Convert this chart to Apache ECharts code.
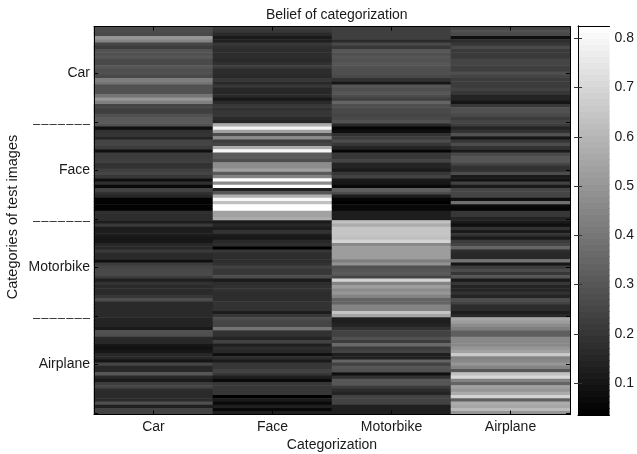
<!DOCTYPE html>
<html><head><meta charset="utf-8">
<style>html,body{margin:0;padding:0;background:#fff}#c{width:637px;height:454px}</style>
<script src="https://cdn.jsdelivr.net/npm/echarts@6/dist/echarts.min.js"></script>
</head><body><div id="c"></div>
<script>
var categories = ['Car','Face','Motorbike','Airplane'];
var DASHES = '–\u200a–\u200a–\u200a–\u200a–\u200a–\u200a–';
var rowTickLabels = ['Car',DASHES,'Face',DASHES,'Motorbike',DASHES,'Airplane',''];
var colorbarTicks = [0.1,0.2,0.3,0.4,0.5,0.6,0.7,0.8];
var vMin = 0.035, vMax = 0.825;
var beliefCar = [
.27,.27,.26,.50,.44,.25,.22,.29,.285,.30,.26,.26,.30,.28,.285,
.26,.425,.395,.285,.29,.29,.395,.50,.425,.25,.23,.23,.285,.31,.315,
.285,.08,.19,.2,.145,.25,.25,.22,.08,.22,.22,.23,.19,.19,.23,
.25,.205,.08,.185,.065,.24,.19,.155,.045,.045,.045,.045,.185,.175,.175,
.125,.215,.125,.125,.125,.105,.105,.155,.155,.215,.165,.165,.08,.22,.25,
.26,.26,.22,.13,.19,.165,.165,.165,.205,.27,.165,.165,.165,.165,.165,
.145,.145,.145,.115,.29,.28,.165,.16,.105,.09,.105,.155,.155,.1,.25,
.16,.16,.30,.16,.115,.22,.25,.175,.165,.165,.165,.28,.13,.24,.24];
var beliefFace = [
.22,.205,.165,.115,.13,.205,.185,.175,.175,.175,.165,.185,.22,.175,.175,
.165,.205,.165,.205,.155,.155,.165,.105,.165,.205,.185,.205,.205,.165,.145,
.565,.785,.535,.27,.47,.22,.25,.565,.80,.315,.315,.27,.47,.47,.535,
.315,.44,.815,.47,.825,.13,.30,.58,.80,.63,.825,.825,.535,.535,.565,
.115,.155,.125,.19,.125,.105,.16,.175,.035,.205,.175,.175,.175,.19,.24,
.205,.205,.27,.115,.175,.185,.19,.175,.175,.175,.19,.19,.19,.125,.205,
.27,.25,.25,.395,.19,.19,.145,.24,.13,.175,.16,.08,.175,.115,.205,
.205,.24,.205,.13,.065,.205,.205,.205,.205,.035,.115,.065,.13,.06,.13];
var beliefMotorbike = [
.23,.23,.23,.23,.165,.26,.205,.30,.28,.30,.285,.30,.285,.28,.28,
.26,.19,.105,.30,.28,.30,.27,.23,.345,.28,.26,.26,.25,.26,.285,
.16,.05,.08,.19,.22,.27,.205,.145,.05,.205,.205,.25,.145,.145,.115,
.205,.24,.115,.105,.06,.33,.27,.125,.05,.035,.06,.06,.125,.125,.125,
.63,.565,.645,.645,.645,.63,.69,.455,.52,.52,.52,.52,.425,.49,.285,
.30,.315,.25,.69,.44,.52,.47,.50,.44,.345,.345,.44,.44,.645,.55,
.13,.13,.145,.19,.24,.24,.285,.22,.36,.22,.24,.13,.13,.345,.24,
.30,.285,.08,.19,.30,.30,.22,.175,.145,.24,.24,.24,.13,.13,.13];
var beliefAirplane = [
.25,.285,.26,.08,.175,.205,.26,.215,.215,.215,.25,.25,.23,.23,.28,
.245,.22,.22,.22,.24,.205,.145,.145,.10,.205,.285,.285,.26,.22,.245,
.22,.145,.19,.285,.10,.205,.27,.19,.115,.26,.30,.30,.25,.19,.19,
.27,.115,.09,.24,.115,.25,.25,.25,.08,.38,.065,.05,.205,.205,.145,
.115,.08,.19,.115,.19,.115,.22,.25,.345,.175,.16,.16,.395,.10,.22,
.27,.205,.30,.115,.205,.145,.145,.19,.145,.27,.24,.175,.175,.125,.16,
.55,.52,.47,.425,.33,.33,.455,.455,.455,.50,.535,.66,.44,.455,.50,
.44,.30,.63,.705,.44,.345,.535,.50,.565,.69,.33,.565,.55,.61,.50];

var columns = [beliefCar, beliefFace, beliefMotorbike, beliefAirplane];
var rows = beliefCar.map(function(_, i){
  var k = (i + 1) / 15;
  return Number.isInteger(k) ? rowTickLabels[k - 1] : '';
});
var cells = [];
columns.forEach(function(col, x){ col.forEach(function(v, y){ cells.push([x, y, v]); }); });
var LEVELS = 64, levels = [], step = (vMax - vMin) / LEVELS;
for (var i = 0; i < LEVELS; i++) levels.push([vMin + (i + 0.5) * step]);

var font = '"Liberation Sans", Arial, sans-serif', txt = '#1a1a1a', FS = 14;
var everyFifteenth = function(i){ return (i + 1) % 15 === 0; };
var line = {show:true, lineStyle:{color:'#000', width:1}};
function yAx(pos, showLabel){
  return {type:'category', gridIndex:0, data:rows, inverse:true, position:pos, z:5,
    boundaryGap:true, axisLine:line,
    axisTick:{show:true, inside:true, length:4, alignWithLabel:true, interval:everyFifteenth, lineStyle:{color:'#000'}},
    axisLabel:{show:showLabel, interval:everyFifteenth, margin:4, color:txt, fontFamily:font, fontSize:FS,
      formatter:function(v){ return v === DASHES ? '{d|' + v + '}' : v; },
      rich:{d:{fontSize:13, fontFamily:font, color:txt, padding:[4,0,0,0]}}},
    splitLine:{show:false}};
}
function xAx(pos, showLabel){
  return {type:'category', gridIndex:0, data:categories, position:pos, z:5,
    axisLine:line,
    axisTick:{show:true, inside:true, length:4, alignWithLabel:true, lineStyle:{color:'#000'}},
    axisLabel:{show:showLabel, margin:6, color:txt, fontFamily:font, fontSize:FS},
    splitLine:{show:false}};
}
function cbAx(pos, showLabel){
  return {type:'value', gridIndex:1, min:vMin, max:vMax, position:pos, z:5, axisLine:line,
     axisTick:{show:true, inside:true, length:4, customValues:colorbarTicks, lineStyle:{color:'#333'}},
     axisLabel:{show:showLabel, margin:5, color:txt, fontFamily:font, fontSize:FS,
       customValues:colorbarTicks, formatter:function(v){return v.toFixed(1);}},
     splitLine:{show:false}};
}
var chart = echarts.init(document.getElementById('c'), null, {renderer:'canvas'});
chart.setOption({
  animation:false,
  backgroundColor:'#fff',
  title:[{text:'Belief of categorization', left:261, top:3,
    textStyle:{fontFamily:font, fontSize:FS, fontWeight:'normal', color:txt}}],
  grid:[{left:94, top:26.6, width:476, height:388, show:false},
        {left:578, top:26, width:32, height:389, show:false}],
  xAxis:[xAx('bottom',true), xAx('top',false),
    {type:'value', gridIndex:1, min:0, max:1, position:'bottom', z:5, axisLine:line,
     axisTick:{show:false}, axisLabel:{show:false}, splitLine:{show:false}},
    {type:'value', gridIndex:1, min:0, max:1, position:'top', z:5, axisLine:line,
     axisTick:{show:false}, axisLabel:{show:false}, splitLine:{show:false}}],
  yAxis:[yAx('left',true), yAx('right',false), cbAx('right',true), cbAx('left',false)],
  visualMap:[{type:'continuous', show:false, min:vMin, max:vMax, dimension:2, seriesIndex:0,
     inRange:{color:['#000000','#ffffff']}}],
  graphic:[
    {type:'text', x:332, y:445, style:{text:'Categorization', fontFamily:font, fontSize:FS, fill:txt, textAlign:'center', textVerticalAlign:'middle'}},
    {type:'text', x:13, y:217, rotation:Math.PI/2, style:{text:'Categories of test images', fontFamily:font, fontSize:FS+0.5, fill:txt, textAlign:'center', textVerticalAlign:'middle'}}
  ],
  series:[
    {type:'heatmap', xAxisIndex:0, yAxisIndex:0, data:cells, progressive:0, emphasis:{disabled:true}, itemStyle:{borderWidth:0}},
    {type:'custom', xAxisIndex:2, yAxisIndex:2, data:levels, encode:{y:0}, silent:true, clip:true,
     renderItem:function(p, api){
       var v = api.value(0);
       var a = api.coord([0, v + step/2]), b = api.coord([1, v - step/2]);
       var g = Math.round((v - vMin) / (vMax - vMin) * 255);
       var y0 = Math.floor(a[1]), y1 = Math.ceil(b[1]);
       return {type:'rect', shape:{x:a[0], y:y0, width:b[0]-a[0], height:y1-y0},
         style:{fill:'rgb('+g+','+g+','+g+')'}};
     }}
  ]
});
</script></body></html>
